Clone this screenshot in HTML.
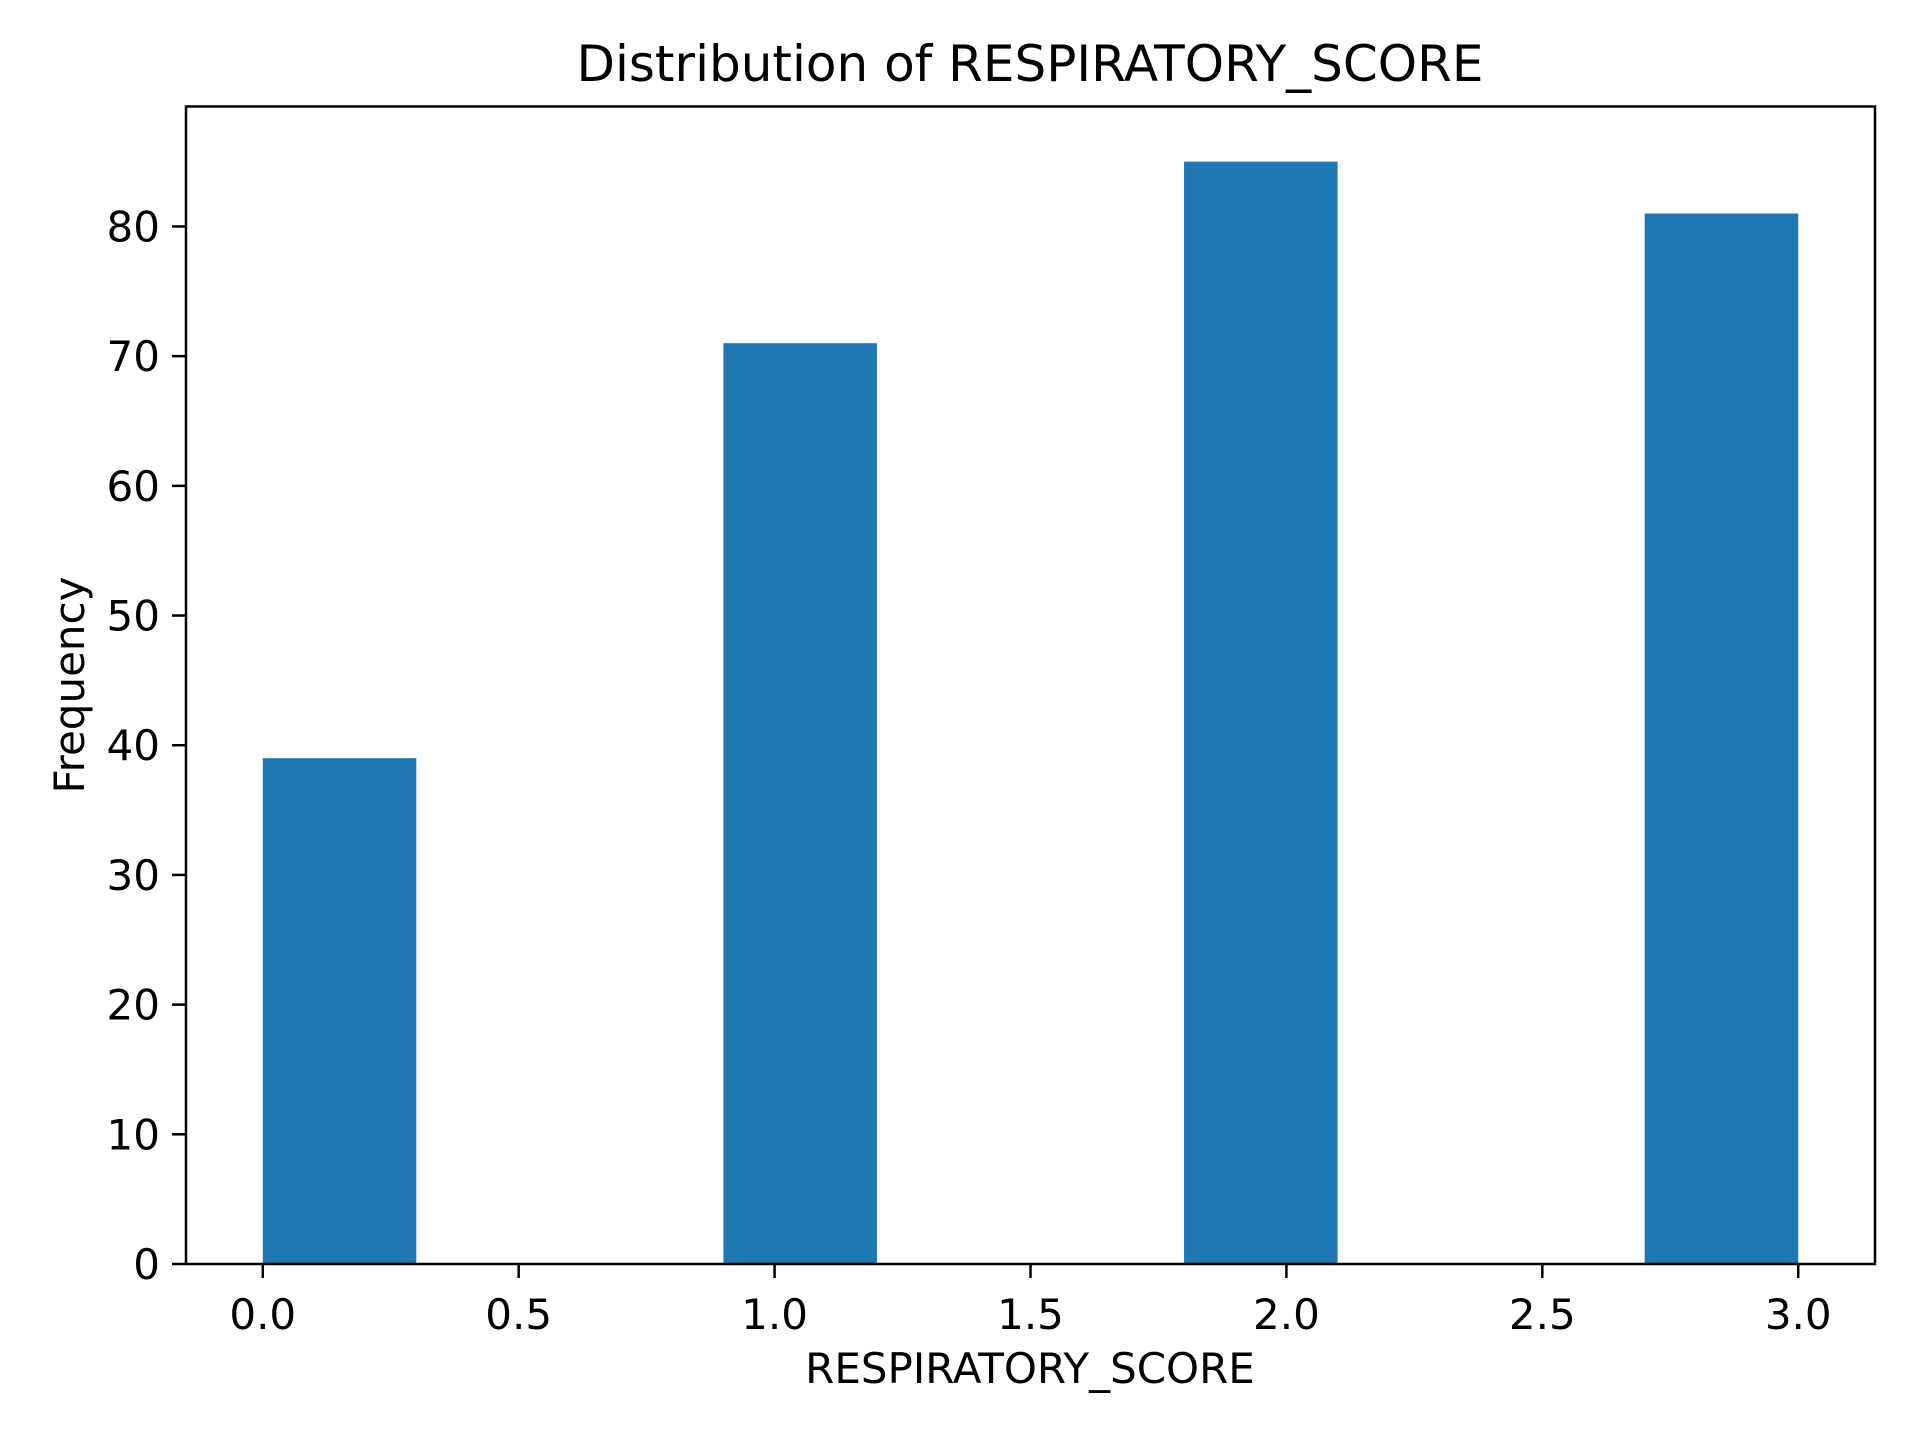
<!DOCTYPE html>
<html><head><meta charset="utf-8"><style>
html,body{margin:0;padding:0;background:#fff;}
svg{display:block;font-family:"DejaVu Sans","Liberation Sans",sans-serif;}
</style></head><body>
<svg id="chart" width="1920" height="1440" viewBox="0 0 1920 1440">
<rect width="1920" height="1440" fill="#fff"/>
<text x="1030" y="81" font-size="50" text-anchor="middle">Distribution of RESPIRATORY_SCORE</text>
<g id="bars"></g>
<g id="xticks"></g>
<g id="yticks"></g>
<rect x="186" y="106.5" width="1689" height="1157.5" fill="none" stroke="#000" stroke-width="2.5"/>
<text x="1030" y="1383" font-size="42" text-anchor="middle">RESPIRATORY_SCORE</text>
<text transform="translate(84,685) rotate(-90)" font-size="42" text-anchor="middle">Frequency</text>
</svg>
<script>
const binEdges = [0,0.3,0.6,0.9,1.2,1.5,1.8,2.1,2.4,2.7,3.0];
const counts = [39,0,0,71,0,0,85,0,0,81];
const xTicks = [0,0.5,1,1.5,2,2.5,3];
const xTickLabels = ["0.0","0.5","1.0","1.5","2.0","2.5","3.0"];
const yTicks = [0,10,20,30,40,50,60,70,80];
const yTickLabels = ["0","10","20","30","40","50","60","70","80"];

const L=186,R=1875,T=106.5,B=1264;
const xMin=-0.15,xMax=3.15,yMin=0,yMax=89.25;
const xs=v=>L+(v-xMin)/(xMax-xMin)*(R-L);
const ys=v=>B-(v-yMin)/(yMax-yMin)*(B-T);
const NS='http://www.w3.org/2000/svg';
const bars=document.getElementById('bars');
counts.forEach((c,i)=>{
  if(c<=0) return;
  const r=document.createElementNS(NS,'rect');
  r.setAttribute('x',xs(binEdges[i]));
  r.setAttribute('width',xs(binEdges[i+1])-xs(binEdges[i]));
  r.setAttribute('y',ys(c));
  r.setAttribute('height',ys(0)-ys(c));
  r.setAttribute('fill','#1f77b4');
  
  
  bars.appendChild(r);
});
const xg=document.getElementById('xticks');
xTicks.forEach((v,i)=>{
  const x=xs(v);
  const l=document.createElementNS(NS,'line');
  l.setAttribute('x1',x);l.setAttribute('x2',x);l.setAttribute('y1',B);l.setAttribute('y2',B+14);
  l.setAttribute('stroke','#000');l.setAttribute('stroke-width','2.5');
  
  
  xg.appendChild(l);
  const t=document.createElementNS(NS,'text');
  t.setAttribute('x',x);t.setAttribute('y',B+65);t.setAttribute('font-size','42');t.setAttribute('text-anchor','middle');
  t.textContent=xTickLabels[i];
  
  
  xg.appendChild(t);
});
const yg=document.getElementById('yticks');
yTicks.forEach((v,i)=>{
  const y=ys(v);
  const l=document.createElementNS(NS,'line');
  l.setAttribute('x1',L-14);l.setAttribute('x2',L);l.setAttribute('y1',y);l.setAttribute('y2',y);
  l.setAttribute('stroke','#000');l.setAttribute('stroke-width','2.5');
  
  
  yg.appendChild(l);
  const t=document.createElementNS(NS,'text');
  t.setAttribute('x',L-26);t.setAttribute('y',y+15);t.setAttribute('font-size','42');t.setAttribute('text-anchor','end');
  t.textContent=yTickLabels[i];
  
  
  yg.appendChild(t);
});
</script>
</body></html>
